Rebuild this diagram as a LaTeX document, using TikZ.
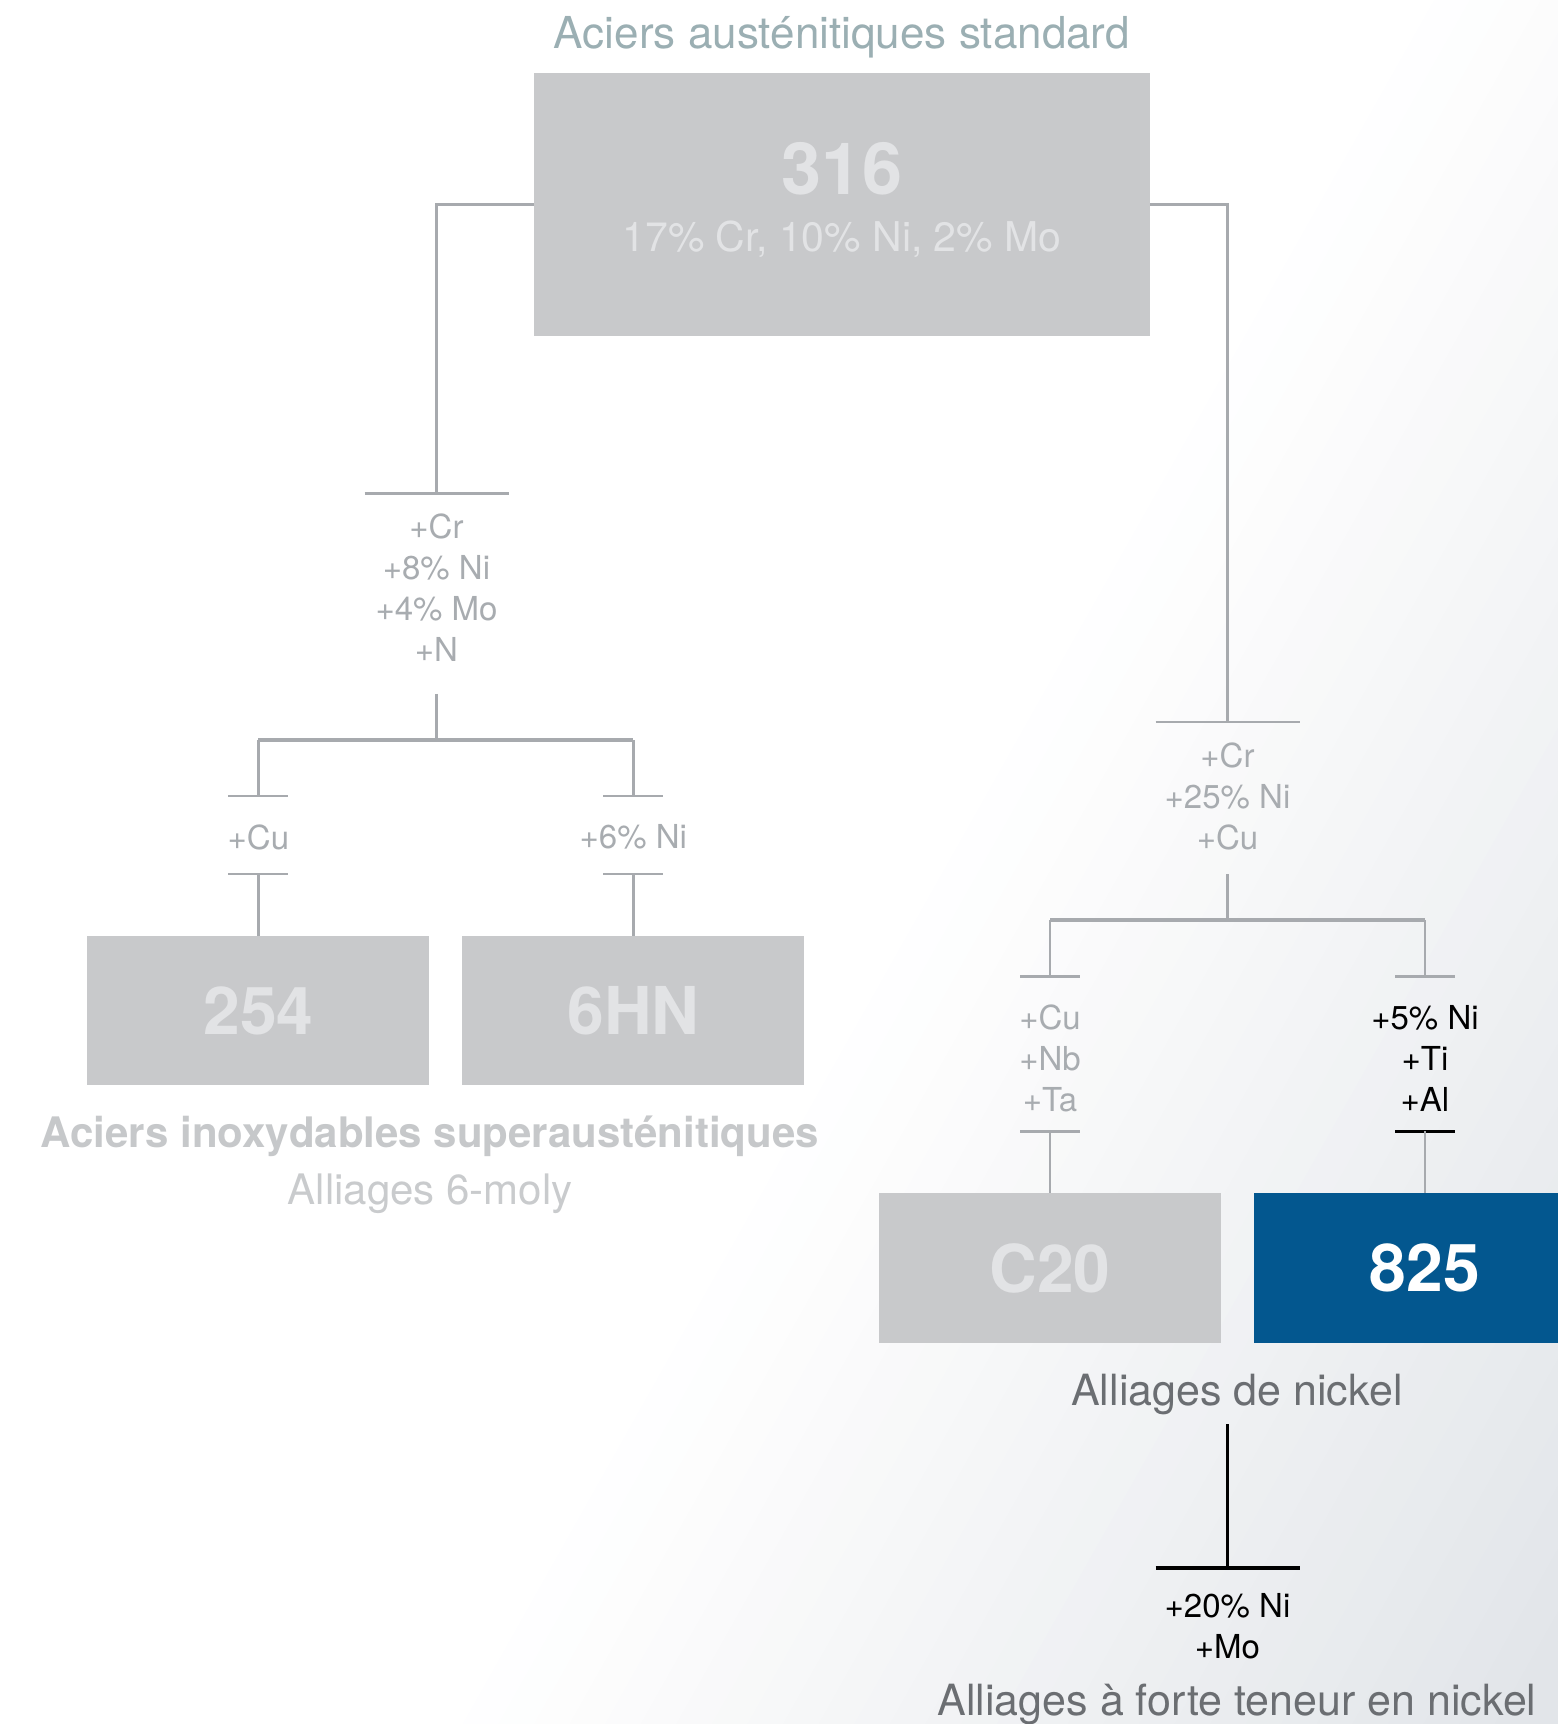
\documentclass[tikz,border=0pt]{standalone}
\usepackage{fontspec}
\setmainfont{TeX Gyre Heros}
\usetikzlibrary{calc}
\definecolor{boxgray}{HTML}{C8C9CB}
\definecolor{boxtxt}{HTML}{E2E3E5}
\definecolor{linegray}{HTML}{A7AAAE}
\definecolor{lblgray}{HTML}{A8ACB0}
\definecolor{titlecol}{HTML}{9BAFB3}
\definecolor{headgray}{HTML}{C6C8CA}
\definecolor{subgray}{HTML}{C9CBCD}
\definecolor{darkgray}{HTML}{6B6E72}
\definecolor{bluebox}{HTML}{03578F}
\definecolor{bgdark}{HTML}{E2E5E9}
\tikzset{
  alloybox/.style={fill=boxgray, draw=none, minimum width=342pt, minimum height=149.5pt,
    inner sep=0pt, anchor=north, text=boxtxt, font=\fontsize{66}{66}\selectfont\bfseries},
  conn/.style={draw=linegray, line width=2.5pt},
  splitbar/.style={draw=linegray, line width=4pt},
  blackconn/.style={draw=black, line width=2.5pt},
  blackbar/.style={draw=black, line width=4pt},
  lbl/.style={align=center, inner sep=0pt, anchor=north, text=lblgray, font=\fontsize{33}{41}\selectfont},
  heading/.style={inner sep=0pt, anchor=base, font=\fontsize{43}{43}\selectfont},
  boxtext/.style={inner sep=0pt, anchor=base, text=boxtxt}
}
\begin{document}
\begin{tikzpicture}[x=1pt,y=-1pt]
\clip (0,0) rectangle (1558,1724);
\fill[white] (0,0) rectangle (1558,1724);
% diagonal background gradient (white -> light grey towards the lower right)
\begin{scope}[rotate=-29.4]
  \foreach \i in {0,...,30}{
    \pgfmathsetmacro{\sa}{1250+\i*31}
    \pgfmathsetmacro{\sb}{\sa+32}
    \pgfmathsetmacro{\pc}{min(100,(\i+0.5)/30*100)}
    \fill[bgdark!\pc!white] (\sa,-900) -- (\sb,-900) -- (\sb,1650) -- (\sa,1650) -- cycle;
  }
\end{scope}

% title and top box
\node[heading, text=titlecol, font=\fontsize{44}{44}\selectfont] (title) at (842,48) {Aciers austénitiques standard};
\node[alloybox, minimum width=616pt, minimum height=263pt] (b316) at (842,73) {};
\node[boxtext, font=\fontsize{72}{72}\selectfont\bfseries] (n316) at (842,194) {316};
\node[boxtext, font=\fontsize{41}{41}\selectfont] (c316) at (842,251) {17\% Cr, 10\% Ni, 2\% Mo};

% ---------- left branch ----------
\coordinate (tL) at (436.5,493.7);
\draw[conn] (b316.west) -| (tL);
\draw[conn] ($(tL)+(-72,0)$) -- ($(tL)+(72,0)$);
\node[lbl] (lblL) at (436.5,513.6) {+Cr\\+8\% Ni\\+4\% Mo\\+N};
\coordinate (sL) at (436.5,693.8);
\coordinate (hL) at (436.5,740);
\draw[conn] (sL) -- (hL);
\coordinate (aL) at (258.4,740);
\coordinate (aR) at (633.3,740);
\draw[splitbar] (aL) -- (aR);

% 254 sub-branch
\coordinate (tCu) at (258.4,796);
\draw[conn] (aL) -- (tCu);
\draw[conn] ($(tCu)+(-30,0)$) -- ($(tCu)+(30,0)$);
\node[lbl] (lCu) at (258.4,824.7) {+Cu};
\coordinate (bCu) at (258.4,874.1);
\draw[conn] ($(bCu)+(-30,0)$) -- ($(bCu)+(30,0)$);
\node[alloybox] (b254) at (258.4,935.7) {254};
\draw[conn] (bCu) -- (b254.north);

% 6HN sub-branch
\coordinate (tNi) at (633.3,796);
\draw[conn] (aR) -- (tNi);
\draw[conn] ($(tNi)+(-30,0)$) -- ($(tNi)+(30,0)$);
\node[lbl] (lNi) at (633.3,824.7) {+6\% Ni};
\coordinate (bNi) at (633.3,874.1);
\draw[conn] ($(bNi)+(-30,0)$) -- ($(bNi)+(30,0)$);
\node[alloybox] (b6hn) at (633.3,935.7) {6HN};
\draw[conn] (bNi) -- (b6hn.north);

\node[heading, text=headgray, font=\fontsize{42}{42}\selectfont\bfseries] (hsuper) at (430,1147) {Aciers inoxydables superausténitiques};
\node[heading, text=subgray, font=\fontsize{42}{42}\selectfont] (hmoly) at (430,1204) {Alliages 6-moly};

% ---------- right branch ----------
\coordinate (tR) at (1227.5,722);
\draw[conn] (b316.east) -| (tR);
\draw[conn] ($(tR)+(-72,0)$) -- ($(tR)+(72,0)$);
\node[lbl] (lblR) at (1227.5,742.3) {+Cr\\+25\% Ni\\+Cu};
\coordinate (sR) at (1227.5,874.1);
\coordinate (hR) at (1227.5,920.3);
\draw[conn] (sR) -- (hR);
\coordinate (cL) at (1050,920.3);
\coordinate (cR) at (1425,920.3);
\draw[splitbar] (cL) -- (cR);

% C20 sub-branch
\coordinate (tC) at (1050,976.4);
\draw[conn] (cL) -- (tC);
\draw[conn] ($(tC)+(-30,0)$) -- ($(tC)+(30,0)$);
\node[lbl] (lC) at (1050,1005) {+Cu\\+Nb\\+Ta};
\coordinate (bC) at (1050,1131.4);
\draw[conn] ($(bC)+(-30,0)$) -- ($(bC)+(30,0)$);
\node[alloybox] (bc20) at (1050,1193) {C20};
\draw[conn] (bC) -- (bc20.north);

% 825 sub-branch
\coordinate (tI) at (1425,976.4);
\draw[conn] (cR) -- (tI);
\draw[conn] ($(tI)+(-30,0)$) -- ($(tI)+(30,0)$);
\node[lbl, text=black] (lI) at (1425,1005) {+5\% Ni\\+Ti\\+Al};
\coordinate (bI) at (1425,1131.4);
\draw[blackconn] ($(bI)+(-30,0)$) -- ($(bI)+(30,0)$);
\node[alloybox, fill=bluebox, text=white] (b825) at (1425,1193) {825};
\draw[conn] (bI) -- (b825.north);

\node[heading, text=darkgray] (hnickel) at (1237,1405) {Alliages de nickel};
\coordinate (sN) at (1227.5,1424);
\coordinate (tN) at (1227.5,1568);
\draw[blackconn] (sN) -- (tN);
\draw[blackbar] ($(tN)+(-72,0)$) -- ($(tN)+(72,0)$);
\node[lbl, text=black] (lN) at (1227.5,1593) {+20\% Ni\\+Mo};
\node[heading, text=darkgray] (hhigh) at (1237,1715) {Alliages à forte teneur en nickel};
\end{tikzpicture}
\end{document}
